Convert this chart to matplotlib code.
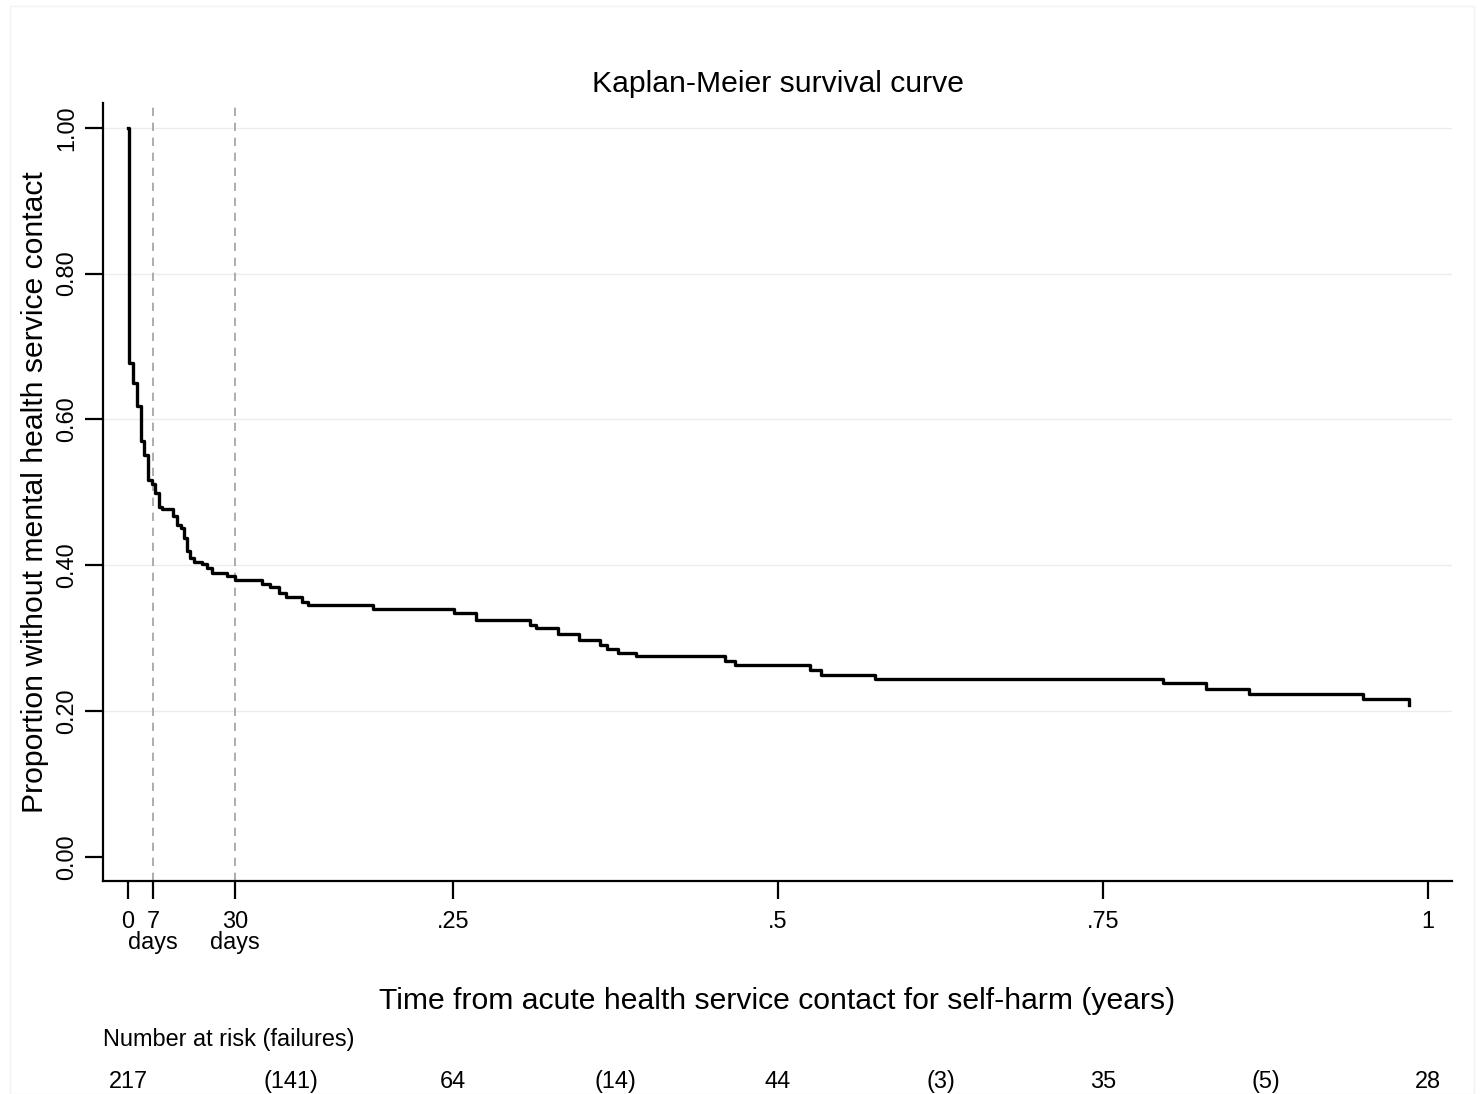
import matplotlib
matplotlib.use("Agg")
import matplotlib.pyplot as plt
import matplotlib.transforms as mtransforms
from matplotlib.patches import Rectangle

plt.rcParams['font.family'] = ['Liberation Sans', 'DejaVu Sans']

# Kaplan-Meier step data (time in years, survival after the step)
step_times = [0.0, 0.001, 0.0041, 0.0072, 0.0098, 0.0125, 0.0156, 0.0187, 0.0208,
              0.0238, 0.0262, 0.0348, 0.0375, 0.0408, 0.0431, 0.0452, 0.0477,
              0.0510, 0.0567, 0.0610, 0.0644, 0.0759, 0.0827, 0.1031, 0.1092,
              0.1162, 0.1215, 0.1336, 0.1387, 0.1882, 0.2508, 0.2677, 0.3092,
              0.3138, 0.3310, 0.3472, 0.3631, 0.3688, 0.3769, 0.3910, 0.4592,
              0.4669, 0.5246, 0.5328, 0.5746, 0.7964, 0.8292, 0.8625, 0.9498,
              0.9856]
survival = [1.0, 0.678, 0.650, 0.618, 0.570, 0.551, 0.517, 0.512, 0.499,
            0.480, 0.477, 0.467, 0.455, 0.451, 0.437, 0.419, 0.410,
            0.405, 0.402, 0.396, 0.390, 0.385, 0.380, 0.375, 0.370,
            0.362, 0.356, 0.350, 0.346, 0.340, 0.335, 0.325, 0.318,
            0.314, 0.306, 0.298, 0.291, 0.285, 0.280, 0.275, 0.269,
            0.263, 0.257, 0.250, 0.244, 0.238, 0.230, 0.224, 0.216,
            0.209]

xtick_vals = [0, 7 / 365.25, 30 / 365.25, 0.25, 0.5, 0.75, 1.0]
xtick_labels = ["0", "7", "30", ".25", ".5", ".75", "1"]
days_ticks = [7 / 365.25, 30 / 365.25]
days_label = "days"
ytick_vals = [0.0, 0.2, 0.4, 0.6, 0.8, 1.0]
ytick_labels = ["0.00", "0.20", "0.40", "0.60", "0.80", "1.00"]
ref_days = [7 / 365.25, 30 / 365.25]

risk_times = [0, 0.125, 0.25, 0.375, 0.5, 0.625, 0.75, 0.875, 1.0]
risk_labels = ["217", "(141)", "64", "(14)", "44", "(3)", "35", "(5)", "28"]

FS_BIG = 21.7
FS_SMALL = 16.9

fig = plt.figure(figsize=(14.84, 10.94), dpi=100)
fig.patches.append(Rectangle((10 / 1484, 0), 1 - 20 / 1484, 1 - 6 / 1094,
                             transform=fig.transFigure, fill=False,
                             edgecolor='#f2f2f2', linewidth=1))
ax = fig.add_axes([103 / 1484, 1 - 881 / 1094, (1452 - 103) / 1484, (881 - 103) / 1094])

ax.step(step_times, survival, where='post', color='black', linewidth=2.4, zorder=3)

for d in ref_days:
    ax.axvline(d, color='#a0a0a0', linestyle=(0, (5, 4)), linewidth=1.2, zorder=1)

ax.set_xlim(-0.0192, 1.0185)
ax.set_ylim(-0.033, 1.034)

ax.set_yticks(ytick_vals)
ax.set_yticklabels(ytick_labels, rotation=90, va='center', fontsize=FS_SMALL)
ax.set_xticks(xtick_vals)
ax.set_xticklabels(xtick_labels, fontsize=FS_SMALL)

for y in ytick_vals[1:]:
    ax.axhline(y, color='#ececec', linewidth=1.0, zorder=0)

for s in ['top', 'right']:
    ax.spines[s].set_visible(False)
for s in ['left', 'bottom']:
    ax.spines[s].set_linewidth(1.6)
ax.tick_params(axis='both', direction='out', length=13, width=1.6, pad=8)
ax.tick_params(axis='y', pad=5)

trans = mtransforms.blended_transform_factory(ax.transData, fig.transFigure)
for d in days_ticks:
    ax.text(d, 1 - 949 / 1094, days_label, transform=trans, ha='center', va='baseline',
            fontsize=FS_SMALL, clip_on=False)

ax.set_title("Kaplan-Meier survival curve", fontsize=FS_BIG, pad=8)
ax.set_ylabel("Proportion without mental health service contact", fontsize=FS_BIG, labelpad=4)
fig.text(777.5 / 1484, 1 - 1001 / 1094, "Time from acute health service contact for self-harm (years)",
         fontsize=FS_BIG, ha='center', va='center')

fig.text(103 / 1484, 1 - 1046 / 1094, "Number at risk (failures)", fontsize=FS_SMALL,
         ha='left', va='baseline')
for t, lab in zip(risk_times, risk_labels):
    ax.text(t, 1 - 1088 / 1094, lab, transform=trans, ha='center', va='baseline',
            fontsize=FS_SMALL, clip_on=False)

fig.savefig("out.png", dpi=100, facecolor='white')
